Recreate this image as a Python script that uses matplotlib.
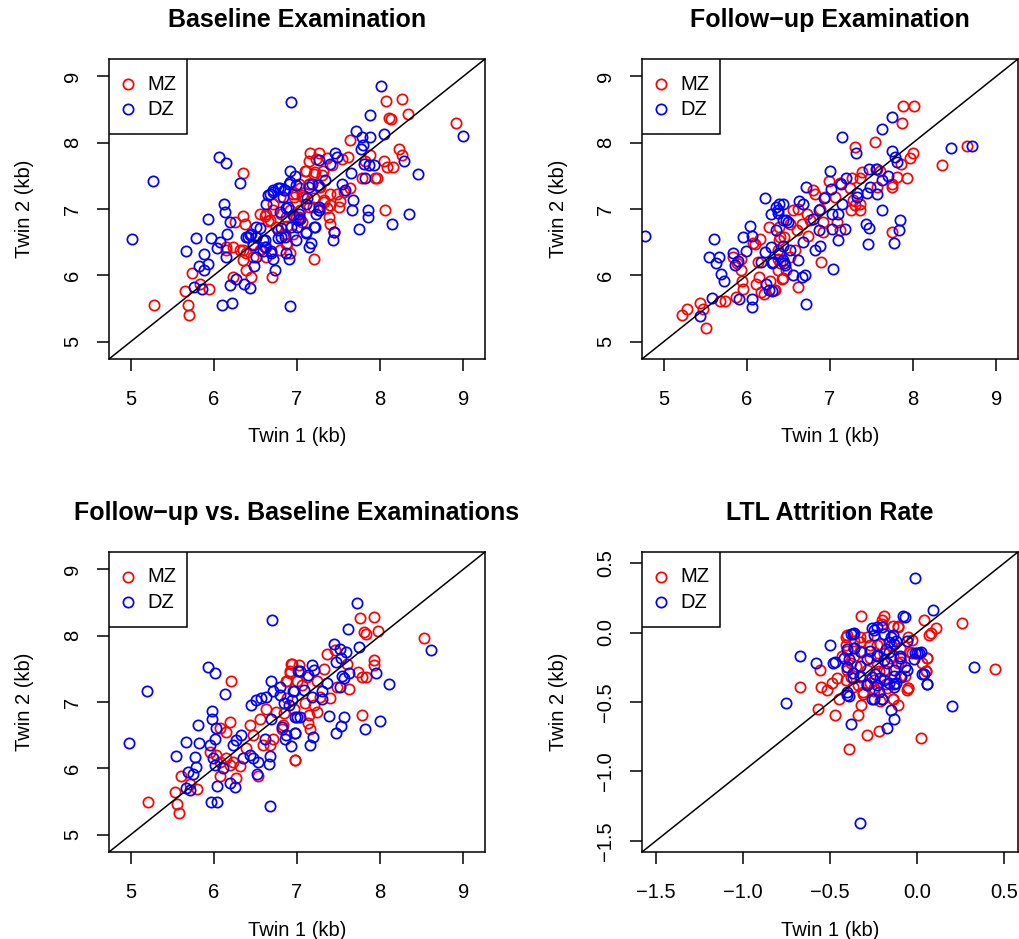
import matplotlib.pyplot as plt
from matplotlib.patches import Rectangle

plt.rcParams['font.family'] = ['Liberation Sans', 'DejaVu Sans']

# Baseline examination (kb)
base_mz_t1 = [6.35, 6.35, 6.26, 6.37, 6.23, 6.15, 6.31, 6.39, 6.35, 6.39, 6.45, 6.23, 5.74, 5.83, 5.94,
              5.65, 5.28, 5.69, 5.70, 6.70, 6.61, 6.65, 6.51, 6.55, 6.71, 6.81, 6.87, 6.95, 6.99, 6.47,
              8.07, 8.26, 8.33, 8.10, 8.13, 8.91, 7.64, 7.16, 7.26, 7.15, 7.36, 7.42, 7.54, 7.61, 7.88,
              7.82, 8.04, 8.08, 8.15, 8.23, 8.26, 7.10, 7.22, 7.30, 7.78, 7.94, 7.96, 7.14, 7.04, 7.28,
              7.40, 7.48, 7.56, 7.64, 7.06, 6.96, 7.20, 7.32, 7.40, 7.50, 7.52, 8.06, 7.36, 7.14, 7.04,
              7.39, 7.40, 7.45, 6.92, 6.96, 7.06, 6.88, 6.86, 6.88, 7.21,
              7.23, 7.11, 7.21, 7.31, 7.03, 7.15, 6.99, 7.07, 6.79, 6.71, 6.63, 6.55, 6.67, 6.75, 6.95,
              7.03, 6.87, 6.15, 6.35, 6.63, 6.79, 6.91, 6.63, 6.47, 7.19, 7.27, 7.33]
base_mz_t2 = [7.54, 6.90, 6.80, 6.78, 6.43, 6.38, 6.38, 6.33, 6.23, 6.08, 5.97, 5.97, 6.03, 5.87, 5.79,
              5.76, 5.56, 5.56, 5.41, 5.97, 6.90, 6.82, 6.58, 6.38, 6.98, 6.93, 6.48, 7.23, 6.88, 6.28,
              8.62, 8.65, 8.43, 8.37, 8.36, 8.30, 8.04, 7.84, 7.84, 7.72, 7.77, 7.66, 7.76, 7.78, 7.82,
              7.73, 7.72, 7.64, 7.63, 7.90, 7.82, 7.58, 7.56, 7.51, 7.46, 7.46, 7.47, 7.38, 7.31, 7.33,
              7.23, 7.23, 7.26, 7.32, 7.21, 7.18, 7.16, 7.11, 7.06, 7.03, 7.12, 6.99, 7.01, 7.03, 6.98,
              6.88, 6.78, 6.65, 6.98, 6.88, 6.80, 6.75, 6.63, 6.48, 6.25,
              7.76, 7.58, 7.53, 7.58, 7.38, 7.38, 7.23, 7.18, 7.18, 7.08, 6.93, 6.93, 6.83, 6.73, 6.63,
              6.88, 6.88, 6.43, 6.38, 6.43, 6.38, 6.33, 6.28, 6.48, 7.03, 7.33, 7.13]
base_dz_t1 = [6.93, 6.06, 6.15, 5.27, 6.32, 6.91, 6.97, 6.12, 6.13, 5.93, 6.19, 5.02, 5.78, 5.97, 6.16,
              6.07, 5.67, 5.88, 6.04, 5.82, 5.93, 5.88, 5.76, 5.86, 6.15, 6.27, 6.20, 6.36, 6.43, 6.10,
              6.22, 6.91, 6.48, 6.41, 6.51, 6.61, 6.69, 6.71, 6.73, 6.87, 6.90, 6.63, 6.67, 6.71, 6.79,
              6.85, 6.89, 6.77, 6.81, 6.45, 6.59,
              8.01, 7.88, 9.00, 7.71, 7.78, 7.88, 8.04, 7.77, 7.79, 7.46, 7.48, 7.40, 7.26, 7.81, 7.86,
              7.92, 8.29, 8.46, 7.65, 7.82, 7.34, 6.90, 6.84, 7.18, 7.54, 7.58, 7.67, 7.66, 7.85, 7.85,
              8.35, 8.14, 7.74, 7.44, 7.43, 7.26, 7.27, 7.12, 7.22, 7.11, 7.17, 7.00, 7.04,
              6.77, 6.71, 6.65, 6.83, 6.91, 6.99, 7.15, 7.25, 7.27, 7.23, 7.03, 7.11, 6.87, 6.79, 7.01,
              6.95, 6.81, 6.93, 6.77, 6.85, 6.99, 7.11, 7.21, 6.55, 6.51, 6.43, 6.39, 6.47, 6.61, 6.59,
              6.69, 6.51, 7.15]
base_dz_t2 = [8.61, 7.78, 7.70, 7.42, 7.39, 7.58, 7.49, 7.07, 6.96, 6.85, 6.80, 6.55, 6.57, 6.57, 6.63,
              6.50, 6.36, 6.32, 6.41, 6.14, 6.17, 6.08, 5.82, 5.80, 6.28, 5.95, 5.85, 5.87, 5.81, 5.56,
              5.59, 5.54, 6.14, 6.58, 6.73, 6.43, 6.33, 6.25, 6.08, 6.33, 6.24, 7.08, 7.23, 7.28, 7.31,
              7.28, 7.03, 6.68, 6.58, 6.63, 6.53,
              8.85, 8.41, 8.10, 8.18, 8.08, 8.08, 8.13, 7.90, 7.96, 7.84, 7.78, 7.68, 7.74, 7.68, 7.66,
              7.67, 7.72, 7.53, 7.54, 7.47, 7.43, 7.38, 7.28, 7.38, 7.38, 7.29, 7.13, 6.99, 6.98, 6.88,
              6.93, 6.78, 6.70, 6.65, 6.54, 6.98, 7.03, 7.16, 6.73, 6.64, 6.49, 6.73, 6.85,
              7.31, 7.26, 7.21, 7.18, 7.41, 7.36, 7.33, 7.36, 6.98, 6.93, 6.93, 7.08, 7.01, 6.96, 6.83,
              6.91, 6.71, 6.73, 6.56, 6.58, 6.53, 6.66, 6.73, 6.71, 6.58, 6.61, 6.58, 6.46, 6.53, 6.36,
              6.36, 6.28, 6.43]

# Follow-up examination (kb)
fu_mz_t1 = [5.22, 5.28, 5.44, 5.47, 5.51, 5.68, 5.74, 5.87, 5.95, 5.94, 5.93, 5.93, 5.88, 5.83, 6.07,
            6.10, 6.16, 6.13, 6.15, 6.17, 6.21, 6.33, 6.11, 6.27, 6.39, 6.42, 6.47, 6.37, 6.39, 6.45,
            7.88, 8.01, 7.86, 7.54, 7.30, 8.65, 8.00, 7.96, 7.85, 8.35, 7.92, 7.80, 7.75, 7.75, 7.38,
            7.36, 7.26, 7.56, 7.60, 6.99, 7.12, 7.24, 6.80, 6.82, 6.94, 7.06, 7.28, 7.36, 7.25, 7.36,
            7.30, 7.56, 6.88, 6.62, 6.56, 6.72, 6.76, 6.66, 6.52, 6.60, 6.92, 7.08, 7.12, 6.92, 6.74,
            6.40, 6.38, 6.58, 6.52, 7.74, 6.89, 6.62, 6.43, 6.34, 6.38, 6.40, 6.28]
fu_mz_t2 = [5.41, 5.50, 5.59, 5.50, 5.21, 5.62, 5.61, 5.67, 5.80, 5.92, 6.08, 6.25, 6.18, 6.28, 6.49,
            6.48, 6.55, 6.20, 5.97, 5.75, 5.72, 5.78, 5.87, 6.73, 6.73, 5.95, 6.08, 6.25, 6.53, 6.58,
            8.55, 8.55, 8.30, 8.01, 7.93, 7.95, 7.85, 7.77, 7.68, 7.66, 7.47, 7.48, 7.37, 7.33, 7.56,
            7.46, 7.46, 7.61, 7.58, 7.42, 7.39, 7.31, 7.28, 7.22, 7.18, 7.18, 7.13, 7.08, 6.98, 6.99,
            7.06, 7.33, 7.00, 7.00, 6.98, 6.93, 6.83, 6.78, 6.78, 6.68, 6.80, 6.80, 6.68, 6.65, 6.60,
            6.58, 6.38, 6.38, 6.28, 6.65, 6.20, 5.83, 5.96, 5.78, 6.08, 6.18, 5.92]
fu_dz_t1 = [4.78, 6.22, 6.04, 6.06, 5.96, 5.61, 5.83, 5.54, 5.66, 5.63, 5.89, 5.86, 5.99, 5.69, 5.73,
            5.58, 5.91, 5.44, 6.06, 6.06, 6.17, 6.22, 6.29, 6.31, 6.23, 6.27, 6.29, 6.35, 6.39, 6.44,
            6.37, 6.35, 6.39, 6.45, 6.47, 6.43,
            7.74, 7.63, 7.14, 8.45, 8.71, 7.31, 7.75, 7.78, 7.80, 7.00, 7.47, 7.55, 7.70, 7.63, 7.19,
            7.13, 6.71, 7.01, 7.48, 7.33, 7.45, 7.56, 7.33, 6.93, 6.63, 6.68, 7.14, 6.37, 6.44, 6.50,
            6.87, 7.02, 7.10, 7.62, 7.84, 7.83, 7.43, 7.47, 7.18, 7.02, 6.87, 6.80, 7.10, 7.46, 7.77,
            6.88, 6.82, 6.68, 6.62, 6.52, 6.44, 6.46, 6.56, 6.66, 6.70, 7.04, 6.71, 6.30, 6.30]
fu_dz_t2 = [6.59, 7.17, 6.74, 6.60, 6.58, 6.55, 6.34, 6.28, 6.27, 6.18, 6.22, 6.15, 6.36, 6.02, 5.92,
            5.66, 5.65, 5.39, 5.65, 5.53, 6.20, 6.35, 6.43, 6.20, 5.87, 5.78, 6.93, 7.03, 7.08, 7.07,
            6.98, 6.68, 6.33, 6.18, 6.83, 6.45,
            8.39, 8.20, 8.09, 7.92, 7.95, 7.85, 7.87, 7.78, 7.71, 7.58, 7.60, 7.61, 7.49, 7.44, 7.47,
            7.37, 7.33, 7.30, 7.33, 7.24, 7.24, 7.23, 7.18, 7.16, 7.12, 7.08, 7.08, 6.94, 6.83, 6.80,
            6.99, 6.93, 6.93, 6.98, 6.84, 6.69, 6.78, 6.71, 6.70, 6.70, 6.68, 6.85, 6.53, 6.48, 6.49,
            6.45, 6.38, 6.50, 6.23, 6.38, 6.23, 6.15, 6.00, 5.97, 6.01, 6.10, 5.57, 5.77, 6.18]

# Follow-up vs. baseline (kb)
fvb_mz_t1 = [6.21, 5.21, 5.53, 5.56, 5.58, 5.60, 5.71, 5.80, 6.19, 6.07, 6.15, 5.95, 6.03, 6.07, 6.15,
             6.23, 6.27, 6.07, 6.53, 6.19, 6.31, 6.43, 6.47, 6.55, 6.63, 6.75, 6.67, 6.59, 6.83, 6.87,
             6.93, 6.91, 6.97, 6.39, 6.71,
             7.76, 7.92, 7.80, 7.83, 7.97, 8.53, 7.36, 7.46, 7.92, 7.93, 7.73, 7.78, 7.83, 7.60, 6.94,
             7.02, 6.92, 6.88, 7.00, 7.12, 7.24, 7.32, 7.06, 7.62, 7.48, 7.40, 7.28, 7.10, 7.20, 7.24,
             7.14, 6.88, 6.96, 6.84, 7.78, 7.16, 7.13, 6.98, 6.82]
fvb_mz_t2 = [7.31, 5.49, 5.65, 5.46, 5.33, 5.88, 5.76, 5.69, 6.70, 6.61, 6.55, 6.25, 6.20, 6.10, 6.15,
             6.10, 5.85, 5.88, 5.88, 6.05, 6.03, 6.65, 6.50, 6.75, 6.90, 6.85, 6.35, 6.35, 6.65, 7.31,
             7.58, 7.46, 6.13, 6.30, 6.45,
             8.27, 8.28, 8.05, 8.03, 8.07, 7.97, 7.73, 7.78, 7.63, 7.55, 7.45, 7.38, 7.37, 7.58, 7.58,
             7.56, 7.44, 7.32, 7.31, 7.38, 7.31, 7.49, 7.26, 7.20, 7.22, 7.06, 7.08, 6.98, 6.95, 6.85,
             6.80, 7.06, 6.90, 6.83, 6.80, 6.60, 6.68, 6.12, 6.60]
fvb_dz_t1 = [6.70, 5.93, 6.01, 5.20, 6.14, 6.69, 5.98, 5.98, 5.81, 6.03, 4.98, 5.67, 5.82, 6.02, 5.95,
             5.55, 5.77, 5.79, 5.69, 5.75, 5.66, 5.71, 5.99, 6.01, 6.11, 6.04, 6.19, 6.25, 5.97, 6.04,
             6.68, 6.52, 6.53, 6.66, 6.68, 6.23, 6.27, 6.33, 6.35, 6.43, 6.47, 6.45, 6.51, 6.57, 6.63,
             6.71, 6.79, 6.87, 6.97, 6.93, 6.95, 6.98, 7.01, 6.61, 6.69,
             7.72, 7.61, 8.61, 7.75, 7.44, 7.52, 7.59, 7.47, 7.53, 7.95, 8.10, 7.18, 7.21, 7.04, 7.13,
             7.54, 7.62, 7.57, 7.36, 7.52, 6.96, 7.08, 7.30, 7.18, 6.94, 7.30, 6.84, 6.90, 7.39, 7.56,
             7.53, 7.47, 7.82, 8.00, 7.00, 7.04, 6.98, 7.19, 7.16, 6.86, 6.82, 6.80]
fvb_dz_t2 = [8.24, 7.52, 7.43, 7.17, 7.12, 7.32, 6.87, 6.75, 6.65, 6.61, 6.38, 6.40, 6.38, 6.45, 6.35,
             6.19, 6.17, 6.02, 5.95, 5.91, 5.71, 5.68, 6.15, 6.05, 6.01, 5.74, 5.78, 5.72, 5.49, 5.49,
             5.44, 5.91, 6.10, 6.07, 6.18, 6.35, 6.43, 6.50, 6.15, 6.20, 6.15, 6.96, 7.03, 7.06, 7.08,
             7.16, 7.11, 6.50, 6.53, 6.33, 7.16, 6.78, 7.46, 6.45, 6.75,
             8.49, 8.10, 7.79, 7.83, 7.87, 7.80, 7.76, 7.60, 7.67, 7.44, 7.27, 7.55, 7.48, 7.47, 7.41,
             7.39, 7.43, 7.36, 7.28, 7.22, 7.16, 7.18, 7.16, 7.08, 7.03, 7.05, 6.98, 6.95, 6.79, 6.77,
             6.64, 6.53, 6.59, 6.71, 6.77, 6.77, 6.53, 6.48, 6.35, 6.44, 6.63, 7.23]

# LTL attrition rate
ltl_mz_t1 = [0.26, 0.45, 0.02, -0.39, -0.29, -0.22, -0.34, -0.47, -0.57, -0.67, -0.56, -0.55, -0.52, -0.49,
             -0.46, -0.45, -0.32, -0.19, -0.20, -0.11, 0.04, 0.11, 0.07, -0.03, -0.41, -0.41, -0.33, -0.27,
             -0.40, -0.35, -0.29, -0.22, -0.18, -0.10, -0.06, -0.05, -0.11, -0.14, 0.06, 0.05, -0.07, -0.31,
             -0.34, -0.25, -0.17, -0.09, -0.14, -0.04, -0.23, -0.43, -0.36, -0.19, -0.15, -0.27, -0.38, -0.41,
             -0.14, -0.11, -0.20, -0.40, -0.36, -0.33, -0.05, 0.08, -0.03, 0.06, 0.03, 0.05, -0.05, -0.14,
             -0.18, -0.25, -0.31, -0.37, -0.40, -0.38, -0.40, -0.33, -0.27, -0.23, -0.19, -0.15, -0.11, -0.10,
             -0.21, -0.29, -0.25, -0.33, -0.21, -0.32]
ltl_mz_t2 = [0.07, -0.26, -0.76, -0.84, -0.74, -0.71, -0.59, -0.59, -0.55, -0.39, -0.27, -0.39, -0.41, -0.36,
             -0.33, -0.48, 0.12, 0.12, 0.09, 0.05, 0.09, 0.03, -0.02, -0.05, -0.03, -0.09, -0.07, -0.09,
             -0.25, -0.24, -0.27, -0.28, -0.28, -0.31, -0.41, -0.40, -0.52, -0.48, -0.18, -0.28, -0.31, -0.43,
             -0.38, -0.40, -0.40, -0.21, -0.17, -0.14, -0.09, -0.17, -0.17, -0.15, -0.09, -0.36, -0.32, -0.34,
             0.05, 0.04, 0.06, -0.02, -0.06, -0.03, -0.03, 0.00, -0.15, -0.18, -0.22, -0.28, -0.40, -0.48,
             -0.37, -0.42, -0.44, -0.39, -0.27, -0.22, -0.13, -0.13, -0.18, -0.22, -0.27, -0.18, -0.22, -0.11,
             -0.08, -0.03, -0.34, -0.32, -0.49, -0.52]
ltl_dz_t1 = [-0.01, 0.09, -0.07, 0.33, 0.20, -0.33, -0.67, -0.58, -0.50, -0.48, -0.47, -0.38, -0.36, -0.26,
             -0.20, -0.25, -0.14, -0.16, -0.12, -0.40, -0.36, -0.32, -0.39, -0.29, -0.23, -0.19, -0.16, -0.10,
             -0.07, -0.01, 0.01, -0.02, 0.03, 0.06, -0.12, -0.13, -0.16, -0.21, -0.26, -0.33, -0.37, -0.40,
             -0.39, -0.26, -0.20, -0.22, -0.23, -0.29, -0.38, -0.17, -0.13, -0.15, -0.06, -0.13, -0.75,
             -0.37, -0.25, -0.23, -0.08, -0.19, -0.15, -0.13, -0.06, 0.00, 0.02, -0.42, -0.36, -0.40, -0.37,
             -0.27, -0.23, -0.18, -0.10, -0.17, -0.13, 0.04, 0.06, -0.19, -0.13, -0.24, -0.29, -0.40, -0.25,
             -0.20, -0.33, -0.09]
ltl_dz_t2 = [0.39, 0.16, 0.11, -0.25, -0.53, -1.37, -0.17, -0.22, -0.09, -0.22, -0.21, -0.01, 0.00, 0.03,
             0.04, -0.02, -0.02, -0.07, -0.06, -0.12, -0.11, -0.14, -0.19, -0.19, -0.17, -0.20, -0.14, -0.17,
             -0.25, -0.15, -0.15, -0.19, -0.30, -0.37, -0.36, -0.39, -0.36, -0.33, -0.32, -0.31, -0.33, -0.43,
             -0.46, -0.48, -0.48, -0.43, -0.38, -0.38, -0.66, -0.69, -0.62, -0.56, -0.27, -0.31, -0.51,
             -0.01, 0.02, 0.04, 0.12, -0.01, -0.03, -0.08, -0.06, -0.15, -0.14, -0.18, -0.11, -0.25, -0.29,
             -0.13, -0.16, -0.12, -0.18, -0.22, -0.27, -0.30, -0.37, -0.34, -0.37, -0.30, -0.37, -0.45, -0.48,
             -0.48, -0.24, -0.32]

kb_ticks = [5, 6, 7, 8, 9]
kb_labels = ['5', '6', '7', '8', '9']
ltl_ticks = [-1.5, -1.0, -0.5, 0.0, 0.5]
ltl_labels = ['\u22121.5', '\u22121.0', '\u22120.5', '0.0', '0.5']

W, H = 1019, 939
fig = plt.figure(figsize=(W / 100, H / 100), dpi=100)


def draw_panel(rect, title, mz1, mz2, dz1, dz2, ticks, labels, lims):
    ax = fig.add_axes(rect)
    ax.plot(mz1, mz2, 'o', ls='none', mfc='none', mec='#ff0000', ms=7.4, mew=1.25)
    ax.plot(dz1, dz2, 'o', ls='none', mfc='none', mec='#0000ff', ms=7.4, mew=1.25)
    ax.axline((0, 0), slope=1, color='black', lw=1.1)
    ax.set_xlim(lims)
    ax.set_ylim(lims)
    ax.set_xticks(ticks, labels)
    ax.set_yticks(ticks, labels)
    ax.tick_params(length=8.6, width=1.1, labelsize=14.5)
    ax.tick_params(axis='x', pad=13.5)
    ax.tick_params(axis='y', pad=10.5)
    for lab in ax.get_yticklabels():
        lab.set_rotation(90)
        lab.set_va('center')
    for s in ax.spines.values():
        s.set_linewidth(1.1)
    ax.set_xlabel('Twin 1 (kb)', fontsize=14.5)
    ax.set_ylabel('Twin 2 (kb)', fontsize=14.5)
    ax.xaxis.set_label_coords(0.5, -78 / 300)
    ax.xaxis.label.set_va('center')
    ax.yaxis.set_label_coords(-84 / 376, 0.5)
    ax.yaxis.label.set_va('center')
    ax.yaxis.label.set_ha('center')
    ax.text(0.5, 1 + 39 / 300, title, transform=ax.transAxes, ha='center', va='center',
            fontsize=18, fontweight='bold')
    # legend box in the top-left corner, R style
    ax.add_patch(Rectangle((0, 1 - 75 / 300), 78 / 376, 75 / 300, transform=ax.transAxes,
                           facecolor='white', edgecolor='black', lw=1.1, zorder=3))
    for name, col, yy in [('MZ', '#ff0000', 25), ('DZ', '#0000ff', 50)]:
        ax.plot([18.5 / 376], [1 - yy / 300], 'o', transform=ax.transAxes, mfc='none', mec=col,
                ms=7.4, mew=1.25, zorder=4, clip_on=False)
        ax.text(38 / 376, 1 - yy / 300, name, transform=ax.transAxes, ha='left', va='center',
                fontsize=14.5, zorder=4)
    return ax


aw, ah = 376 / W, 300 / H
draw_panel([109 / W, 1 - 359 / H, aw, ah], 'Baseline Examination',
           base_mz_t1, base_mz_t2, base_dz_t1, base_dz_t2, kb_ticks, kb_labels, (4.74, 9.26))
draw_panel([642 / W, 1 - 359 / H, aw, ah], 'Follow\u2212up Examination',
           fu_mz_t1, fu_mz_t2, fu_dz_t1, fu_dz_t2, kb_ticks, kb_labels, (4.74, 9.26))
draw_panel([109 / W, 1 - 852 / H, aw, ah], 'Follow\u2212up vs. Baseline Examinations',
           fvb_mz_t1, fvb_mz_t2, fvb_dz_t1, fvb_dz_t2, kb_ticks, kb_labels, (4.74, 9.26))
draw_panel([642 / W, 1 - 852 / H, aw, ah], 'LTL Attrition Rate',
           ltl_mz_t1, ltl_mz_t2, ltl_dz_t1, ltl_dz_t2, ltl_ticks, ltl_labels, (-1.58, 0.58))

fig.savefig('out.png', dpi=100)
